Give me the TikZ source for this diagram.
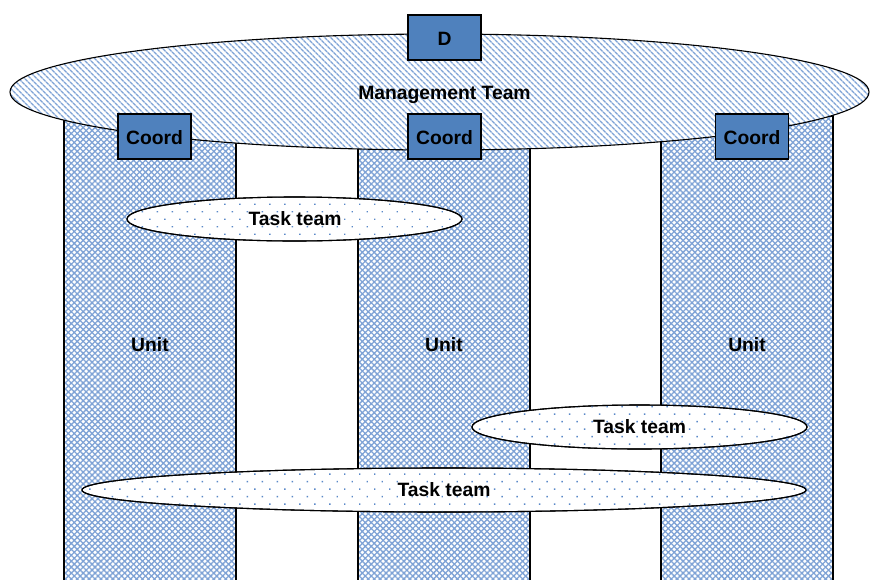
\documentclass[tikz,border=0pt]{standalone}
\usepackage{fontspec}
\setmainfont{Liberation Sans}
\usetikzlibrary{patterns.meta}
\definecolor{boxblue}{HTML}{4F81BD}
\definecolor{patblue}{HTML}{7FA3D6}
\definecolor{dotblue}{HTML}{5A88C8}
\begin{document}
\begin{tikzpicture}[x=1pt,y=-1pt,
  lbl/.style={font=\fontsize{19.3}{21}\selectfont\bfseries, text=black, text height=13.8pt, text depth=0pt, inner sep=0pt},
  unitcol/.style={draw=black, line width=1.1pt, pattern={Hatch[angle=45,distance=4.2pt,line width=1.3pt]}, pattern color=patblue},
  mgmt/.style={draw=black, line width=1.1pt, pattern={Lines[angle=-45,distance=4pt,line width=1.6pt]}, pattern color=patblue},
  taskteam/.style={draw=black, line width=1.1pt, fill=white},
  taskdots/.style={pattern={Dots[angle=45,distance=10.6pt,radius=1pt]}, pattern color=dotblue},
  bluebox/.style={lbl, draw=black, line width=1.1pt, fill=boxblue, minimum width=73pt, minimum height=45pt, text height=16.8pt}
]
\useasboundingbox (0,0) rectangle (870,579);
% columns
\begin{scope}
\clip (0,0) rectangle (870,579);
\foreach \x/\n in {64/c1,358/c2,661/c3}{
  \fill[white] (\x,116) rectangle ++(172,480);
  \draw[unitcol] (\x,116) rectangle ++(172,480);
}
\end{scope}
\node[lbl] (u1) at (150,345) {Unit};
\node[lbl] (u2) at (444,345) {Unit};
\node[lbl] (u3) at (747,345) {Unit};
% management team
\fill[white] (439.5,92) ellipse [x radius=429.5, y radius=58];
\draw[mgmt] (439.5,92) ellipse [x radius=429.5, y radius=58];
\node[lbl] (mt) at (444.5,93) {Management Team};
% boxes
\node[bluebox] (d) at (444.5,37.5) {D};
\node[bluebox] (co1) at (154.5,136.5) {Coord};
\node[bluebox] (co2) at (444.5,136.5) {Coord};
\node[bluebox] (co3) at (752,136.5) {Coord};
% task teams
\foreach \cx/\cy/\rx in {294.5/219/167.5, 639.5/427/167.5, 444/490/362}{
  \draw[taskteam] (\cx,\cy) ellipse [x radius=\rx, y radius=22];
  \fill[taskdots] (\cx,\cy) ellipse [x radius=\rx, y radius=22];
  \draw[line width=1.1pt] (\cx,\cy) ellipse [x radius=\rx, y radius=22];
}
\node[lbl] (t1) at (295,219) {Task team};
\node[lbl] (t2) at (639.5,427) {Task team};
\node[lbl] (t3) at (444,490) {Task team};
\end{tikzpicture}
\end{document}
